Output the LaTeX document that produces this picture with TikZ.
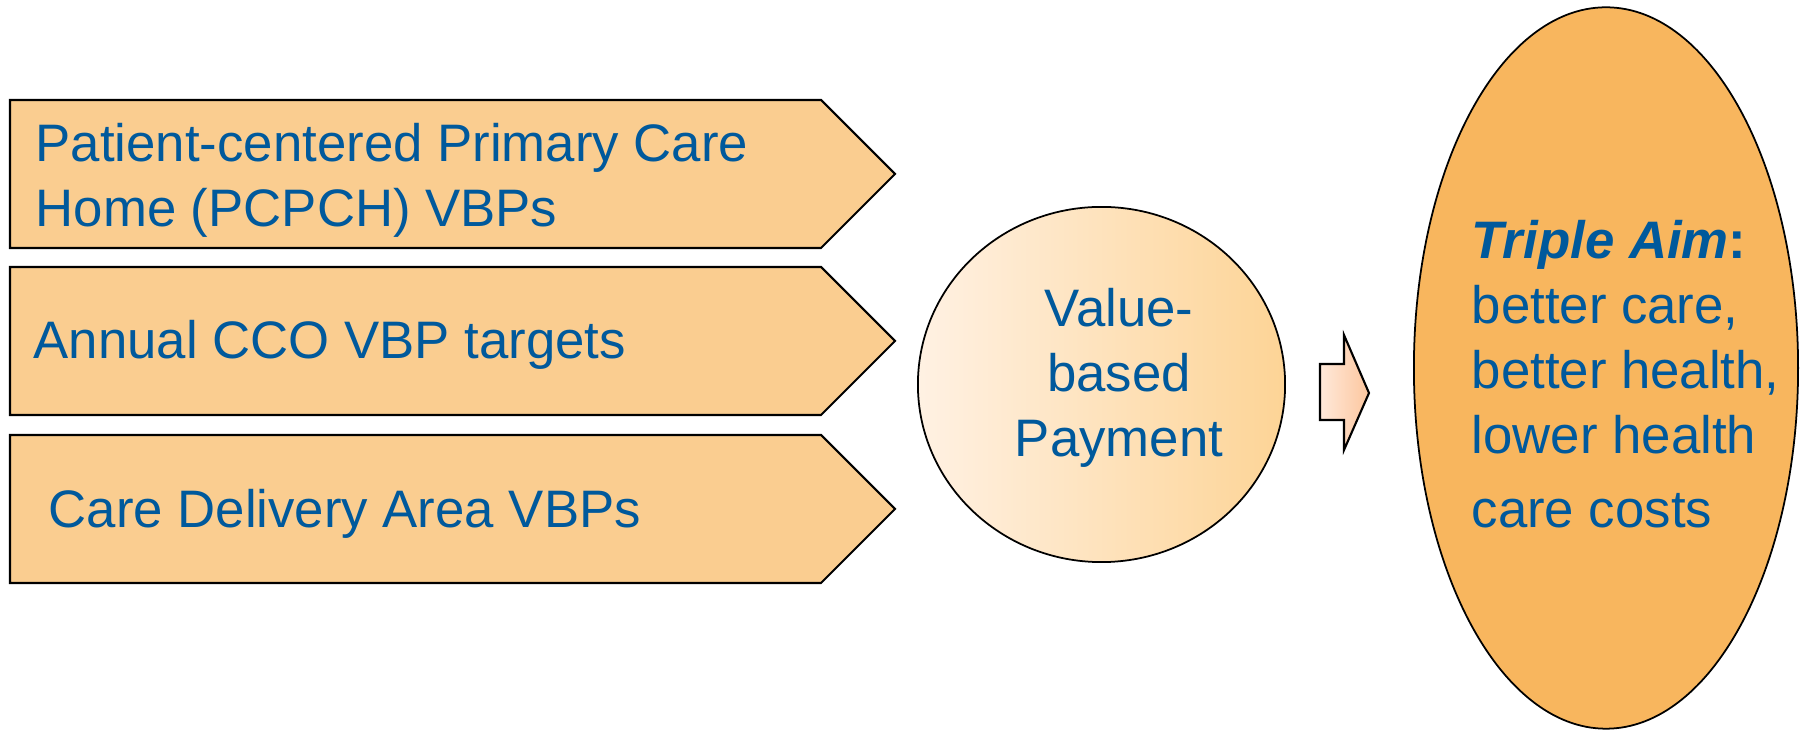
\documentclass[tikz,border=0pt]{standalone}
\usepackage{fontspec}
\setmainfont{Liberation Sans}
\usepackage{tikz}
\usetikzlibrary{shapes.geometric}

\definecolor{vbpblue}{HTML}{00599C}
\definecolor{boxorange}{HTML}{FACD90}
\definecolor{aimorange}{HTML}{F8B65E}
\definecolor{circleft}{HTML}{FFF1E3}
\definecolor{circright}{HTML}{FDD496}
\definecolor{arrowleft}{HTML}{FFE9DA}
\definecolor{arrowright}{HTML}{FCC69E}

\tikzset{
  vbpbox/.style={draw=black, fill=boxorange, line width=0.6pt},
  bluetext/.style={text=vbpblue, font=\fontsize{15}{18.5}\selectfont, inner sep=0pt},
}

\begin{document}
\begin{tikzpicture}[x=0.01cm, y=-0.01cm]
        \fill[white] (0,0) rectangle (1805,731);
        \useasboundingbox (0,0) rectangle (1805,731);
        % the three arrow boxes on the left
        \foreach \top in {100,267,435}
            \draw[vbpbox] (10,\top) -- ++(811,0) -- ++(74,74) -- ++(-74,74) -- ++(-811,0) -- cycle;
        \node[bluetext, align=left, anchor=base west] (pcpch) at (35,227)
            {Patient-centered Primary Care\\Home (PCPCH) VBPs};
        \node[bluetext, anchor=base west] (targets) at (33,359) {Annual CCO VBP targets};
        \node[bluetext, anchor=base west] (delivery) at (48,528) {Care Delivery Area VBPs};
        % value-based payment
        \node[draw=black, line width=0.5pt, ellipse, minimum width=3.67cm, minimum height=3.55cm,
              left color=circleft, right color=circright] (vbp) at (1101.5,384.5) {};
        \node[bluetext, align=center, anchor=base] (vbptext) at (1119,457) {Value-\\based\\Payment};
        % block arrow
        \draw[line width=0.6pt, left color=arrowleft, right color=arrowright]
            (1320,364) -- (1344,364) -- (1344,335) -- (1369,393) -- (1344,450) -- (1344,420) -- (1320,420) -- cycle;
        % triple aim
        \node[draw=black, line width=0.5pt, ellipse, fill=aimorange, minimum width=3.84cm,
              minimum height=7.21cm] (aim) at (1606,368) {};
        \node[bluetext, align=left, anchor=base west] (aimtext) at (1471,528)
            {{\bfseries\itshape Triple Aim}{\bfseries :}\\better care,\\better health,\\lower health\\[2.6pt]care costs};
\end{tikzpicture}
\end{document}
